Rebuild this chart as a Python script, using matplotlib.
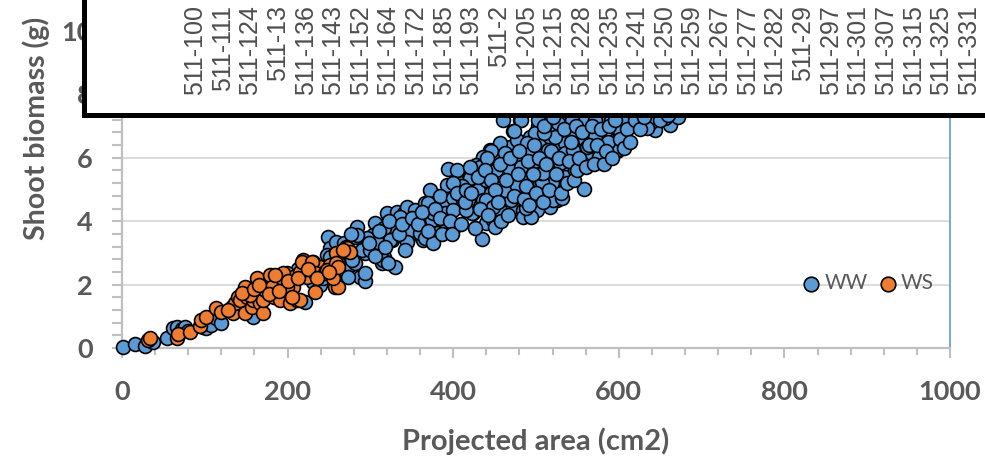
import numpy as np
import matplotlib
matplotlib.use('Agg')
import matplotlib.pyplot as plt
from matplotlib.ticker import MultipleLocator

plt.rcParams['font.family'] = ['Lato', 'DejaVu Sans']

# WW points (projected area cm2, shoot biomass g)
ww_points = np.array([
    [1, 0.02], [16, 0.14], [28, 0.06], [38, 0.18], [54, 0.31], [62, 0.63], [66, 0.67],
    [72, 0.6], [76, 0.66], [80, 0.55], [98, 0.67], [102, 0.63], [108, 0.73], [114, 0.95],
    [120, 0.8], [158, 0.99], [221, 1.45], [231, 2.08], [239, 1.99], [243, 2.2], [213, 2.5],
    [249, 3.5], [259, 3.31], [251, 3.15], [247, 2.93], [269, 2.93], [275, 2.62], [284, 3.83],
    [281, 3.51], [285, 2.99], [287, 2.25], [259, 3.35], [251, 2.88], [255, 2.56], [273, 2.25],
    [293, 2.1], [293, 2.36], [281, 2.68], [293, 2.99], [306, 3.94], [303, 3.57], [314, 2.68],
    [330, 2.57], [320, 4.25], [332, 4.3], [316, 2.88], [328, 3.83], [340, 4.25], [344, 4.46],
    [354, 4.36], [352, 3.83], [346, 3.46], [364, 3.41], [368, 3.83], [366, 4.57], [372, 4.04],
    [380, 4.78], [372, 4.99], [394, 5.65], [392, 4.25], [380, 3.62], [400, 4.67], [408, 5.2],
    [420, 5.4], [428, 5.72], [435, 3.45], [424, 4.25], [440, 3.94], [448, 4.04], [436, 5.99],
    [444, 6.25], [452, 6.15], [444, 4.78], [452, 5.62], [278, 2.78], [290, 3.09], [300, 3.09],
    [317, 3.78], [326, 3.41], [336, 4.14], [348, 3.73], [344, 3.35], [356, 4.04], [360, 3.62],
    [366, 3.46], [374, 4.04], [376, 3.3], [370, 4.57], [388, 4.57], [392, 5.15], [390, 4.25],
    [392, 3.83], [315, 2.78], [321, 2.68], [324, 3.41], [308, 3.35], [296, 3.46], [284, 3.57],
    [384, 4.78], [400, 4.73], [418, 4.67], [430, 4.99], [440, 5.3], [436, 4.67], [446, 4.89],
    [460, 4.99], [463, 4.67], [457, 4.36], [472, 4.46], [484, 4.36], [477, 4.99], [475, 5.3],
    [467, 5.68], [483, 5.94], [469, 6.35], [472, 6.83], [481, 7.2], [493, 6.25], [497, 5.83],
    [489, 5.4], [493, 5.1], [505, 5.2], [505, 5.72], [511, 6.25], [505, 6.57], [502, 6.99],
    [517, 6.67], [525, 6.88], [532, 7.1], [521, 5.94], [529, 6.35], [532, 5.72], [521, 5.3],
    [513, 4.78], [525, 4.67], [517, 4.46], [497, 4.67], [501, 4.36], [484, 4.14], [400, 4.36],
    [376, 4.25], [460, 7.2], [477, 6.57], [493, 6.67], [457, 6.46], [446, 6.2], [436, 6.04],
    [428, 5.78], [420, 5.36], [408, 5.1], [482, 7.2], [474, 6.83], [499, 6.78], [489, 6.46],
    [462, 6.15], [432, 5.72], [411, 5.1], [401, 3.83], [450, 3.83], [494, 4.14], [488, 4.41],
    [520, 4.67], [532, 4.73], [558, 5.02], [519, 5.2], [507, 5.25], [535, 5.4], [547, 5.62],
    [577, 5.99], [598, 6.2], [595, 6.57], [571, 6.1], [563, 5.99], [553, 6.25], [535, 6.46],
    [523, 6.67], [510, 6.78], [526, 7.1], [555, 7.2], [580, 7.1], [599, 6.88], [616, 7.1],
    [635, 7.1], [644, 6.88], [662, 7.04], [656, 7.26], [672, 7.3], [604, 7.26], [590, 7.2],
    [571, 7.2], [543, 7.2], [502, 7.2], [404, 5.62], [420, 5.72], [441, 5.99], [430, 5.4],
    [412, 4.67], [423, 4.25], [470, 4.67], [462, 4.99], [477, 5.1], [498, 4.89], [506, 5.51],
    [482, 5.72], [494, 6.15], [514, 6.25], [523, 5.94], [535, 6.15], [555, 5.83], [559, 6.57],
    [571, 6.67], [543, 6.78], [440, 4.67], [448, 4.46], [415, 4.36], [400, 5.2], [576, 6.04],
    [595, 6.2], [587, 6.5], [601, 6.83], [638, 7.1], [634, 6.94], [561, 6.35], [545, 6.25],
    [529, 5.83], [508, 5.51], [540, 7.6], [580, 7.8], [620, 7.9], [650, 8.2], [690, 8.5],
    [720, 8.8], [600, 8.1], [560, 7.9], [700, 9.2],
    [262, 3.0], [268, 3.3], [276, 3.6], [298, 3.3], [305, 2.9], [310, 3.7], [318, 3.2],
    [322, 4.0], [334, 3.6], [338, 3.9], [342, 3.1], [350, 4.1], [358, 3.9], [362, 4.3],
    [370, 3.7], [378, 4.4], [384, 4.1], [386, 3.6], [396, 4.0], [398, 3.6], [404, 4.9],
    [410, 3.9], [414, 4.6], [416, 5.0], [422, 4.9], [426, 3.8], [432, 4.4], [438, 5.6],
    [442, 4.2], [446, 5.3], [450, 5.0], [454, 4.6], [456, 5.8], [458, 4.0], [464, 5.3],
    [466, 4.2], [468, 6.0], [474, 4.8], [478, 5.5], [480, 6.2], [486, 4.7], [488, 5.1],
    [490, 5.9], [492, 4.5], [496, 5.5], [498, 6.4], [500, 4.9], [504, 6.0], [508, 4.6],
    [510, 7.0], [512, 5.8], [516, 5.0], [518, 6.2], [520, 7.3], [524, 5.5], [528, 6.0],
    [530, 4.9], [534, 6.9], [538, 5.2], [540, 5.9], [542, 6.5], [546, 5.3], [548, 7.0],
    [550, 5.6], [552, 6.0], [556, 6.8], [560, 5.7], [564, 6.4], [568, 7.0], [570, 5.8],
    [574, 6.4], [578, 6.9], [582, 5.8], [584, 6.2], [588, 7.0], [592, 6.0], [596, 7.2],
    [602, 6.6], [606, 6.3], [610, 6.9], [614, 6.5], [620, 7.2], [626, 6.9], [630, 7.3],
    [650, 7.2], [660, 7.35],
])

# WS points
ws_points = np.array([
    [31, 0.25], [34, 0.3], [66, 0.31], [68, 0.45], [82, 0.5], [94, 0.7], [96, 0.88],
    [102, 0.98], [114, 1.26], [133, 1.3], [134, 1.1], [137, 1.41], [140, 1.61], [142, 1.52],
    [149, 1.1], [151, 1.61], [151, 1.89], [157, 1.3], [158, 1.52], [163, 2.21], [163, 1.61],
    [167, 1.42], [170, 1.1], [170, 1.52], [175, 1.83], [179, 2.3], [183, 1.61], [187, 1.93],
    [187, 2.15], [191, 1.52], [194, 2.21], [194, 1.93], [199, 2.36], [203, 1.73], [203, 1.42],
    [207, 1.93], [207, 2.25], [211, 1.52], [215, 1.52], [217, 2.46], [219, 2.78], [223, 2.25],
    [231, 2.72], [233, 1.77], [239, 2.57], [243, 2.36], [251, 2.62], [255, 2.25], [257, 1.93],
    [259, 2.99], [261, 2.68], [270, 3.2], [272, 3.15], [275, 3.03], [149, 1.94], [155, 1.68],
    [169, 1.94], [173, 1.83], [181, 1.94], [193, 2.2], [195, 2.36], [199, 1.94], [215, 2.41],
    [217, 2.72], [229, 2.72], [233, 2.36], [245, 2.36], [247, 2.46], [259, 2.68], [261, 1.94],
    [267, 3.09], [255, 2.2], [261, 2.57], [145, 1.75], [160, 1.85], [165, 2.0], [178, 1.7],
    [185, 2.3], [190, 1.8], [200, 2.1], [205, 1.6], [212, 2.2], [225, 2.5], [236, 2.2],
    [250, 2.4], [120, 1.15], [128, 1.2],
])

sample_labels = ['511-100', '511-111', '511-124', '511-13', '511-136', '511-143', '511-152',
                 '511-164', '511-172', '511-185', '511-193', '511-2', '511-205', '511-215',
                 '511-228', '511-235', '511-241', '511-250', '511-259', '511-267', '511-277',
                 '511-282', '511-29', '511-297', '511-301', '511-307', '511-315', '511-325',
                 '511-331']

x_ticks = [0, 200, 400, 600, 800, 1000]
y_ticks = [0, 2, 4, 6, 8, 10]

W, H = 985, 457
gray = '#595959'
axis_gray = '#BFBFBF'


def px_box(l, t, r, b):
    return [l / W, 1 - b / H, (r - l) / W, (b - t) / H]


fig = plt.figure(figsize=(W / 100, H / 100), dpi=100)
ax = fig.add_axes(px_box(122, 31, 950, 348))

sc_ww = ax.scatter(ww_points[:, 0], ww_points[:, 1], s=100, c='#5B9BD5',
                   edgecolors='black', linewidths=1.2, clip_on=False, zorder=3)
sc_ws = ax.scatter(ws_points[:, 0], ws_points[:, 1], s=100, c='#ED7D31',
                   edgecolors='black', linewidths=1.2, clip_on=False, zorder=4)

ax.set_xlim(0, 1000)
ax.set_ylim(0, 10)
ax.set_xticks(x_ticks)
ax.set_yticks(y_ticks)
ax.xaxis.set_minor_locator(MultipleLocator(40))
ax.yaxis.set_minor_locator(MultipleLocator(0.4))
ax.tick_params(axis='x', which='major', length=7, width=1.5, color=axis_gray,
               labelsize=19.5, labelcolor=gray, pad=16)
ax.tick_params(axis='x', which='minor', length=5, width=1.5, color=axis_gray)
ax.tick_params(axis='y', which='both', length=7, width=1.5, color=axis_gray,
               labelsize=19.5, labelcolor=gray, pad=14)
for lbl in ax.get_xticklabels() + ax.get_yticklabels():
    lbl.set_fontweight('bold')

ax.grid(axis='y', which='major', color='#D9D9D9', linewidth=1.3)
ax.set_axisbelow(True)
ax.spines['top'].set_visible(False)
ax.spines['left'].set_color(axis_gray)
ax.spines['bottom'].set_color(axis_gray)
ax.spines['left'].set_linewidth(1.6)
ax.spines['bottom'].set_linewidth(1.6)
ax.spines['right'].set_color('#5B9BD5')
ax.spines['right'].set_linewidth(1.2)

leg = ax.legend([sc_ww, sc_ws], ['WW', 'WS'], loc='center', bbox_to_anchor=(0.902, 0.205),
                ncol=2, frameon=False, fontsize=15, handlelength=0.7, handletextpad=0.3,
                columnspacing=0.6, borderpad=0, markerscale=1.05)
for t in leg.get_texts():
    t.set_color(gray)

fig.text(536 / W, 1 - 450 / H, 'Projected area (cm2)', ha='center', va='baseline',
         fontsize=21, fontweight='bold', color=gray)
fig.text(36 / W, 1 - 128 / H, 'Shoot biomass (g)', rotation=90, ha='center', va='center',
         fontsize=20.5, fontweight='bold', color=gray)

# pasted-over box with sample names
box_l, box_t, box_r, box_b = 83.5, -20, 1010, 114.5
label_x0, label_step = 195, 27.64
ax_box = fig.add_axes(px_box(box_l, box_t, box_r, box_b))
ax_box.set_facecolor('white')
ax_box.set_xlim((box_l - label_x0) / label_step, (box_r - label_x0) / label_step)
ax_box.set_ylim(0, 1)
ax_box.set_xticks([])
ax_box.set_yticks([])
for sp in ax_box.spines.values():
    sp.set_color('black')
    sp.set_linewidth(3.6)
text_top = (box_b - 5) / (box_b - box_t)
for i, name in enumerate(sample_labels):
    ax_box.text(i, text_top, name, rotation=90, ha='center', va='top',
                transform=ax_box.get_xaxis_transform(), fontsize=18, color='#4d4d4d',
                family=['Liberation Sans', 'DejaVu Sans'])

fig.savefig('out.png', dpi=100)
